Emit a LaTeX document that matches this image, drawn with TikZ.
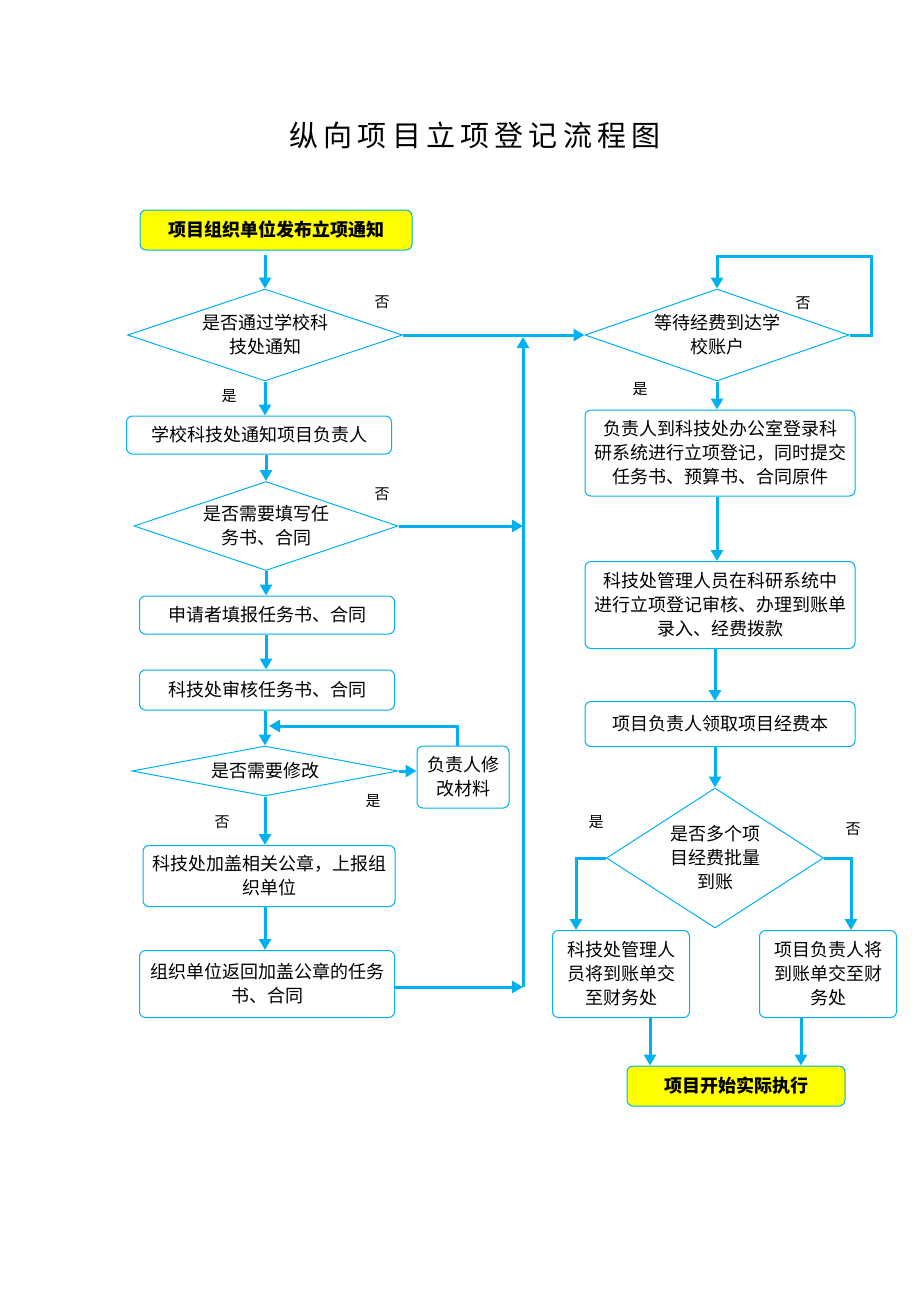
\documentclass[tikz,border=0pt]{standalone}
\usepackage{fontspec}
\setmainfont{Noto Sans CJK SC}
\usepackage{tikz}
\usetikzlibrary{shapes,arrows,arrows.meta,positioning}
\definecolor{lineblue}{RGB}{0, 176, 240}
\definecolor{yellow}{RGB}{255, 255, 0}
\tikzstyle{proc} = [rectangle, rounded corners=6pt, draw=lineblue, line width=1pt, fill=white, text=black, align=center, inner sep=0pt, font=\fontsize{18}{24}\selectfont]
\tikzstyle{term} = [proc, fill=yellow, font=\fontsize{18}{24}\selectfont\bfseries]
\tikzstyle{decide} = [diamond, draw=lineblue, line width=1pt, fill=white, text=black, align=center, inner sep=0pt, font=\fontsize{18}{24}\selectfont]
\tikzstyle{lbl} = [inner sep=0pt, text=black, font=\fontsize{15}{15}\selectfont]
\tikzstyle{tedge}  = [draw=lineblue, line width=3pt, -{Triangle[length=11pt,width=12pt]}]

\begin{document}
\begin{tikzpicture}[x=1pt, y=-1pt]
\useasboundingbox (0,0) rectangle (920,1302);

% title =============================
\node[font=\fontsize{29}{29}\selectfont\addfontfeatures{LetterSpace=18}] (title) at (475,135) {纵向项目立项登记流程图};

% left column =============================
\node[term, minimum width=272pt, minimum height=40pt] (notice) at (276,230) {项目组织单位发布立项通知};
\node[decide, aspect=3, minimum width=275pt, minimum height=92pt] (pass) at (265,335) {是否通过学校科\\技处通知};
\node[proc, minimum width=265pt, minimum height=38pt] (inform) at (259,435) {学校科技处通知项目负责人};
\node[decide, aspect=3, minimum width=264pt, minimum height=89pt] (fill) at (266,526) {是否需要填写任\\务书、合同};
\node[proc, minimum width=255pt, minimum height=38pt] (apply) at (267,615) {申请者填报任务书、合同};
\node[proc, minimum width=255pt, minimum height=40pt] (review) at (267,690) {科技处审核任务书、合同};
\node[decide, aspect=5, minimum width=266pt, minimum height=50pt] (modify) at (265,771) {是否需要修改};
\node[proc, minimum width=92pt, minimum height=62pt] (revise) at (463,777) {负责人修\\改材料};
\node[proc, minimum width=252pt, minimum height=61pt] (stamp) at (269,876) {科技处加盖相关公章，上报组\\织单位};
\node[proc, minimum width=255pt, minimum height=67pt] (back) at (267,984) {组织单位返回加盖公章的任务\\书、合同};

% right column =============================
\node[decide, aspect=3, minimum width=264pt, minimum height=92pt] (wait) at (717,335) {等待经费到达学\\校账户};
\node[proc, minimum width=270pt, minimum height=86pt] (login) at (720,453) {负责人到科技处办公室登录科\\研系统进行立项登记，同时提交\\任务书、预算书、合同原件};
\node[proc, minimum width=270pt, minimum height=87pt] (audit) at (720,605) {科技处管理人员在科研系统中\\进行立项登记审核、办理到账单\\录入、经费拨款};
\node[proc, minimum width=270pt, minimum height=45pt] (fund) at (720,724) {项目负责人领取项目经费本};
\node[decide, aspect=1.55, minimum width=217pt, minimum height=140pt] (batch) at (715,858) {是否多个项\\目经费批量\\到账};
\node[proc, minimum width=137pt, minimum height=87pt] (office) at (621,974) {科技处管理人\\员将到账单交\\至财务处};
\node[proc, minimum width=137pt, minimum height=87pt] (leader) at (828,974) {项目负责人将\\到账单交至财\\务处};
\node[term, minimum width=218pt, minimum height=40pt] (run) at (736,1086) {项目开始实际执行};

% labels
\node[lbl] (no1) at (382,302) {否};
\node[lbl] (yes1) at (229,396) {是};
\node[lbl] (no2) at (382,494) {否};
\node[lbl] (yes3) at (373,801) {是};
\node[lbl] (no3) at (222,822) {否};
\node[lbl] (no4) at (803,303) {否};
\node[lbl] (yes4) at (640,389) {是};
\node[lbl] (yes5) at (596,822) {是};
\node[lbl] (no5) at (853,829) {否};

\coordinate (bustop) at (523,337);
\coordinate (busbot) at (523,987);
\coordinate (fixin) at (269,726);
\coordinate (waittop) at (717,256);

% edges
\draw[tedge] ([yshift=34pt]pass.north) -- (pass.north);
\draw[tedge] (pass.south) -- (pass.south |- inform.north);
\draw[tedge] (inform.south -| fill.north) -- (fill.north);
\draw[tedge] (fill.south) -- (fill.south |- apply.north);
\draw[tedge] (apply.south -| fill.south) -- (review.north -| fill.south);
\draw[tedge] (review.south -| modify.north) -- (modify.north);
\draw[tedge] (modify.south) -- (modify.south |- stamp.north);
\draw[tedge] (stamp.south -| modify.south) -- (back.north -| modify.south);
\draw[tedge] (modify.east) -- (modify.east -| revise.west);
\draw[tedge] ([xshift=-6pt]revise.north) |- (fixin);

\draw[tedge] (pass.east) -- (wait.west);
\draw[tedge] (fill.east) -- (fill.east -| bustop);
\draw[tedge] (back.east |- busbot) -- (busbot);
\draw[tedge] (busbot) -- (bustop);

\draw[tedge] (wait.east) -- ++(22,0) |- (waittop) -- (wait.north);
\draw[tedge] (wait.south) -- (wait.south |- login.north);
\draw[tedge] (login.south -| wait.south) -- (audit.north -| wait.south);
\draw[tedge] (audit.south -| batch.north) -- (fund.north -| batch.north);
\draw[tedge] (fund.south -| batch.north) -- (batch.north);
\draw[tedge] (batch.west) -| ([xshift=-45pt]office.north);
\draw[tedge] (batch.east) -| ([xshift=23pt]leader.north);
\draw[tedge] ([xshift=29pt]office.south) -- ([xshift=29pt]office.south |- run.north);
\draw[tedge] ([xshift=-27pt]leader.south) -- ([xshift=-27pt]leader.south |- run.north);

\end{tikzpicture}
\end{document}
